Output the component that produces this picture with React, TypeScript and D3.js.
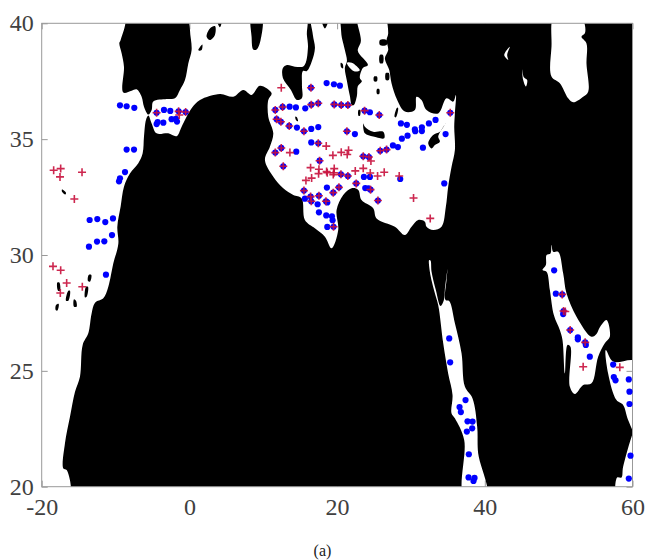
import React, {useEffect, useRef} from 'react'
import * as d3 from 'd3'

type Pt = [number, number]

const xTicks = [-20, 0, 20, 40, 60]
const yTicks = [20, 25, 30, 35, 40]
const caption = '(a)'

// observations seen by both, blue only, red only: [lon, lat]
const bothPoints: Pt[] = [
  [11.63,36.26],[12.62,36.39],[16.50,36.49],[17.45,36.55],[16.46,37.22],[19.61,36.50],[20.56,36.47],[21.46,36.47],
  [23.72,36.23],[25.71,36.04],[35.32,36.14],[11.81,35.86],[12.39,35.75],[13.52,35.57],[15.51,35.34],[21.33,35.34],
  [17.45,34.82],[12.44,34.62],[11.63,34.42],[17.63,34.07],[12.71,33.83],[23.54,34.26],[24.31,34.23],[25.84,34.50],
  [26.70,34.55],[20.52,33.48],[21.46,33.41],[22.59,33.09],[15.51,32.78],[20.25,32.92],[19.48,32.69],[17.54,32.56],
  [16.41,32.52],[16.50,32.32],[18.49,32.32],[24.53,32.82],[25.53,32.35],[19.52,31.22],
  [-4.44,36.14],[-1.46,36.20],[-0.51,36.17],
  [50.48,28.30],[50.66,27.58],[51.56,26.76],[53.59,26.23],
]

const blueOnly: Pt[] = [
  [18.58,37.42],[19.57,37.37],[20.38,37.31],[13.57,36.40],[14.42,36.37],[15.69,36.33],[24.44,36.16],[28.64,35.68],
  [29.45,35.62],[14.56,35.50],[16.50,35.44],[17.45,35.52],[22.41,35.22],[30.53,35.42],[30.58,35.34],[31.48,35.51],
  [31.48,35.35],[32.43,35.68],[33.33,35.83],[34.69,35.22],[29.54,35.15],[28.77,35.02],[27.56,34.73],[28.23,34.66],
  [31.62,34.63],[16.50,34.86],[14.47,34.46],[23.63,33.37],[24.44,33.37],[28.55,33.28],[34.51,33.09],[18.62,32.91],
  [23.81,32.89],[24.26,32.88],[15.64,32.43],[17.36,32.19],[18.67,32.27],[17.54,31.84],[18.53,31.71],[19.30,31.67],
  [19.39,31.50],[18.67,31.21],
  [-9.40,36.46],[-8.50,36.42],[-7.46,36.35],[-3.44,36.26],[-2.59,36.22],[-4.44,35.65],[-4.30,35.74],[-3.53,35.71],
  [-2.41,35.86],[-1.82,35.88],[-1.68,35.76],[-8.50,34.55],[-7.50,34.55],[-8.72,33.58],[-9.40,33.31],[-9.53,33.18],
  [-13.51,31.51],[-12.47,31.55],[-11.39,31.42],[-10.35,31.58],[-10.48,30.86],[-11.52,30.59],[-12.51,30.58],
  [-13.60,30.36],[-11.30,29.15],
  [35.18,26.40],[35.31,25.37],[37.39,23.74],[36.58,23.44],[36.76,23.22],[37.66,22.82],[38.34,22.81],[38.29,22.52],
  [37.57,22.38],[37.84,21.40],[37.80,20.40],[38.61,20.38],[38.47,20.25],
  [49.39,29.34],[49.62,28.33],[50.61,27.45],[52.60,26.45],[52.60,26.36],[53.68,26.12],[54.22,25.61],[57.38,25.27],
  [57.47,24.73],[57.70,24.59],[59.50,24.63],[59.59,24.10],[59.59,23.57],[59.73,21.34],[59.50,20.35],
]

const redOnly: Pt[] = [
  [12.44,37.22],[13.61,34.42],[18.53,34.70],[21.55,34.52],[21.37,34.34],[20.56,34.43],[19.43,34.30],[24.58,34.06],
  [16.41,33.77],[17.54,33.70],[17.49,33.51],[18.58,33.60],[18.67,33.55],[19.61,33.73],[19.57,33.55],[19.48,33.47],
  [16.55,33.32],[15.78,33.22],[22.46,33.63],[23.54,33.74],[24.49,33.54],[25.48,33.41],[26.38,33.57],[28.41,33.41],
  [30.35,32.46],[32.61,31.58],
  [-1.37,36.04],[-18.38,33.66],[-17.43,33.73],[-17.52,33.37],[-14.54,33.57],[-15.58,32.42],[-18.47,29.51],
  [-17.43,29.34],[-16.62,28.79],[-17.48,28.36],[-14.50,28.63],
  [53.32,25.18],[58.28,25.15],[50.9,27.56],
]

// sea outlines, cut out of the black land mask. they run a little past the axes and get clipped
const atlanticMed: Pt[] = [
  [-20.5,40.4],[-8.86,40.4],[-9.31,39.28],[-9.49,39.14],[-9.17,38.70],[-8.86,38.13],[-8.95,37.01],[-7.82,37.09],[-7.15,37.15],
  [-6.47,36.83],[-6.15,36.40],[-5.56,36.06],
  [-5.11,36.26],[-4.89,36.62],[-3.08,36.73],[-1.95,36.76],[-1.28,37.12],[-0.60,37.55],[-0.15,38.27],[0.30,38.85],
  [0.08,39.71],[0.17,40.4],
  [15.64,40.4],[15.91,39.50],[16.05,38.93],[15.51,38.16],[14.29,38.13],[13.21,38.20],[12.66,38.07],[12.66,37.64],
  [13.75,37.12],[14.56,36.69],[15.24,36.78],[15.24,37.34],[15.37,37.94],[15.91,37.94],[16.59,38.37],[17.00,38.93],
  [16.72,39.50],[16.59,40.4],
  [19.97,40.4],[20.65,39.37],[21.05,38.85],[21.33,38.37],[21.05,38.07],[21.33,37.51],[21.73,36.86],[22.0,36.47],
  [22.27,36.47],[22.68,36.86],[22.81,37.29],[23.36,37.5],[23.08,37.64],[23.49,38.07],[24.17,38.20],[22.81,38.80],
  [23.22,39.24],[22.81,40.4],
  [26.24,40.4],[26.92,39.57],[26.70,39.28],[26.92,38.85],[26.47,38.49],[27.06,37.98],[27.37,37.41],[28.14,36.69],
  [29.18,36.19],[30.53,36.26],[30.76,36.83],[31.43,36.69],[32.11,36.26],[33.69,36.11],[34.82,36.76],[35.72,36.62],
  [36.08,36.91],[35.95,36.11],[35.86,35.54],[35.95,34.53],[35.50,33.81],[35.04,32.95],[34.73,32.09],[34.14,31.22],
  [33.01,31.08],[32.11,31.22],[31.88,31.44],[30.98,31.51],[30.08,31.22],[29.18,30.86],[27.82,31.22],[25.34,31.58],
  [24.89,32.02],[23.31,32.37],[22.86,32.81],[21.96,32.88],[20.83,32.59],[19.93,31.94],[20.15,31.08],[19.25,30.29],
  [18.35,30.79],[16.99,31.15],[15.64,31.51],[15.19,32.45],[14.07,32.59],[12.71,32.88],[11.36,33.38],[10.23,34.10],
  [10.91,34.68],[11.36,35.25],[10.68,35.97],[10.68,36.69],[11.13,36.98],[9.55,37.30],[8.42,36.91],[7.30,37.12],
  [5.94,36.83],[4.14,36.95],[1.43,36.69],[0.30,36.33],[-1.05,35.54],[-1.73,35.13],[-2.86,35.25],[-4.44,35.25],
  [-5.11,35.68],[-5.56,36.02],
  [-5.88,35.83],[-6.15,35.11],[-6.33,34.39],[-6.92,33.96],[-8.05,33.52],[-8.86,32.95],[-9.31,32.09],[-9.76,31.22],
  [-9.62,30.50],[-10.30,29.64],[-10.98,28.63],[-11.66,28.13],[-12.78,27.94],[-13.24,27.48],[-13.69,26.62],[-14.45,26.12],
  [-14.82,24.75],[-15.49,24.10],[-16.17,23.02],[-16.85,21.87],[-17.07,20.79],[-16.62,20.72],[-16.26,19.6],[-20.5,19.6],
]
const corinth: Pt[] = [[21.33,38.30],[22.0,38.30],[23.08,37.97],[22.4,37.92],[21.73,38.07]]
const caspian: Pt[] = [
  [49.48,40.4],[49.03,38.99],[49.03,37.70],[50.16,37.41],[51.29,36.76],[51.97,36.59],[53.32,36.83],[54.0,37.05],
  [53.77,38.27],[53.77,39.13],[53.09,39.42],[53.55,39.57],[53.55,39.93],[52.87,40.4],
]
const lakeVan: Pt[] = [[43.39,38.99],[42.63,38.63],[43.17,38.42],[43.03,38.63]]
const lakeUrmia: Pt[] = [[45.06,38.01],[45.29,37.67],[45.74,37.55],[45.56,37.27],[45.2,37.55]]
const redSea: Pt[] = [
  [32.47,29.78],[32.56,29.28],[33.24,28.35],[33.69,27.84],[34.37,26.19],[35.04,24.89],[35.63,23.96],[35.49,23.17],
  [35.95,22.95],[37.21,22.02],[37.21,19.6],[40.23,19.6],[39.10,21.44],[38.97,22.59],[38.34,23.81],[37.30,24.32],
  [36.85,25.76],[35.95,27.05],[35.18,28.01],[34.68,28.06],[34.82,28.92],[34.95,29.38],[34.59,28.49],[34.46,28.06],
  [34.0,27.80],[33.37,28.49],[32.79,29.28],[32.65,29.76],
]
const persianGulf: Pt[] = [
  [49.03,30.43],[49.26,30.14],[49.93,30.14],[50.61,29.21],[51.06,28.35],[52.42,27.34],[54.45,26.47],[55.12,26.59],
  [55.58,26.88],[56.48,27.19],[56.93,26.47],[56.25,26.19],[55.35,25.61],[54.45,24.46],[53.32,24.39],[52.19,24.0],
  [51.51,24.32],[51.60,26.04],[51.20,26.12],[50.84,24.89],[50.52,26.33],[50.16,26.76],[49.35,27.41],[48.81,28.49],
  [48.36,29.28],[47.81,29.35],[48.27,29.57],[48.36,30.0],[48.90,30.07],
]
const gulfOman: Pt[] = [[56.39,25.90],[57.38,25.40],[60.5,25.40],[60.5,22.2],[59.41,22.88],[58.73,23.53],[57.83,23.74],[56.70,24.89]]
const arabianSea: Pt[] = [[60.5,22.6],[58.73,20.86],[58.51,20.40],[57.92,20.40],[57.92,19.6],[60.5,19.6]]
const seas = [atlanticMed, corinth, caspian, lakeVan, lakeUrmia, redSea, persianGulf, gulfOman, arabianSea]

// islands, black again on top of the seas
const islands: Pt[][] = [
  [[-17.88,28.81],[-17.61,28.81],[-17.52,28.46],[-17.79,28.46]],
  [[-16.39,28.46],[-16.17,28.46],[-16.39,28.03],[-16.71,28.03]],
  [[-15.63,28.09],[-15.36,28.03],[-15.27,27.77],[-15.63,27.77]],
  [[-14.0,28.63],[-13.73,28.63],[-13.91,28.20],[-14.14,28.17]],
  [[-13.64,29.14],[-13.28,29.14],[-13.46,28.85],[-13.73,28.88]],
  [[-18.06,27.84],[-17.70,27.89],[-17.88,27.60],[-18.11,27.63]],
  [[-17.25,32.83],[-16.71,32.69],[-16.80,32.61],[-17.25,32.73]],
  [[14.34,35.97],[14.56,35.94],[14.70,35.77],[14.43,35.83]],
  [[2.33,39.42],[2.78,39.78],[3.46,39.88],[3.46,39.50],[2.78,39.28]],
  [[1.21,38.85],[1.75,39.09],[1.66,38.85],[1.34,38.82]],
  [[8.42,40.3],[9.78,40.3],[9.64,39.28],[9.10,38.87],[8.65,38.87],[8.42,39.42]],
  [[3.69,40.2],[4.37,40.2],[4.14,39.83]],
  [[17.90,40.2],[18.80,40.2],[18.35,39.78]],
  [[20.5,38.3],[20.75,38.25],[20.8,38.05],[20.55,38.1]],
  [[25.0,37.7],[25.4,37.7],[25.4,37.5],[25.0,37.5]],
  [[25.4,37.16],[25.7,37.16],[25.7,36.95],[25.4,36.95]],
  [[25.8,38.63],[26.2,38.63],[26.2,38.28],[25.8,38.28]],
  [[26.6,37.85],[27.0,37.85],[27.0,37.55],[26.6,37.55]],
  [[25.8,39.28],[26.7,39.28],[26.7,39.06],[25.8,39.06]],
  [[28.14,36.37],[27.78,35.97],[27.96,35.94],[28.27,36.33]],
  [[22.9,36.26],[23.13,36.26],[23.09,36.01],[22.9,36.01]],
  [[23.54,35.68],[23.76,35.54],[24.89,35.32],[26.24,35.32],[26.38,35.04],[24.89,35.11],[23.76,35.25]],
  [[34.73,35.71],[33.92,35.32],[33.01,35.18],[32.34,34.82],[32.79,34.60],[33.24,34.75],[33.92,34.89],[33.69,35.11]],
]

const font = '"Liberation Serif", serif'
const textColor = '#404040'
const frameColor = '#999999'

function App() {
  const svgRef = useRef(null)

  useEffect(() => {
    const left = 41.7, right = 632.5, top = 23.3, bottom = 486.7

    const x = d3.scaleLinear().domain([-20, 60]).range([left, right])
    const y = d3.scaleLinear().domain([20, 40]).range([bottom, top])

    const svg = d3.select(svgRef.current)
    svg.selectAll('*').remove()

    svg.append('clipPath')
      .attr('id', 'plot-clip')
      .append('rect')
      .attr('x', left)
      .attr('y', top)
      .attr('width', right - left)
      .attr('height', bottom - top)

    // ticks sit under the mask, so they only show over the sea
    const axes = [
      {axis: d3.axisBottom(x).tickValues(xTicks).tickSizeInner(-6).tickPadding(11), at: [0, bottom], labels: true},
      {axis: d3.axisTop(x).tickValues(xTicks).tickSizeInner(-6), at: [0, top], labels: false},
      {axis: d3.axisLeft(y).tickValues(yTicks).tickSizeInner(-6).tickPadding(8), at: [left, 0], labels: true},
      {axis: d3.axisRight(y).tickValues(yTicks).tickSizeInner(-6), at: [right, 0], labels: false},
    ]
    axes.forEach(a => {
      const g = svg.append('g')
        .attr('transform', 'translate(' + a.at[0] + ',' + a.at[1] + ')')
        .call(a.axis.tickSizeOuter(0).tickFormat(d => String(d)))
      g.select('.domain').remove()
      g.selectAll('line').attr('stroke', frameColor)
      if (a.labels) {
        g.selectAll('text')
          .attr('fill', textColor)
          .style('font-family', font)
          .style('font-size', '24px')
      } else {
        g.selectAll('text').remove()
      }
    })

    const ring = d3.line<Pt>().x(d => x(d[0])).y(d => y(d[1])).curve(d3.curveCatmullRomClosed.alpha(0.5))
    const boxRing = d3.line<Pt>().x(d => x(d[0])).y(d => y(d[1])).curve(d3.curveLinearClosed)
    const box: Pt[] = [[-21, 19], [61, 19], [61, 41], [-21, 41]]

    const land = svg.append('g').attr('clip-path', 'url(#plot-clip)')

    land.append('path')
      .attr('d', boxRing(box) + seas.map(r => ring(r)).join(''))
      .attr('fill', '#000')
      .attr('fill-rule', 'evenodd')

    land.append('g')
      .selectAll('path')
      .data(islands)
      .enter()
      .append('path')
      .attr('d', d => ring(d))
      .attr('fill', '#000')

    svg.append('rect')
      .attr('x', left)
      .attr('y', top)
      .attr('width', right - left)
      .attr('height', bottom - top)
      .attr('fill', 'none')
      .attr('stroke', frameColor)
      .attr('stroke-width', 1)

    svg.append('g')
      .selectAll('circle')
      .data([...blueOnly, ...bothPoints])
      .enter()
      .append('circle')
      .attr('cx', d => x(d[0]))
      .attr('cy', d => y(d[1]))
      .attr('r', 3.1)
      .attr('fill', '#0000ff')

    const plus = 4
    svg.append('g')
      .selectAll('path')
      .data([...bothPoints, ...redOnly])
      .enter()
      .append('path')
      .attr('d', d => {
        const px = x(d[0]), py = y(d[1])
        return 'M' + (px - plus) + ',' + py + 'H' + (px + plus) + 'M' + px + ',' + (py - plus) + 'V' + (py + plus)
      })
      .attr('fill', 'none')
      .attr('stroke', '#c8103c')
      .attr('stroke-opacity', 0.9)
      .attr('stroke-width', 1.6)

    svg.append('text')
      .attr('x', 322.5)
      .attr('y', 556)
      .attr('text-anchor', 'middle')
      .attr('fill', '#222')
      .style('font-family', font)
      .style('font-size', '16px')
      .text(caption)
  }, [])

  return (
    <svg ref={svgRef} width={647} height={560} style={{position: 'absolute', left: 0, top: 0}}></svg>
  )
}

export default App
